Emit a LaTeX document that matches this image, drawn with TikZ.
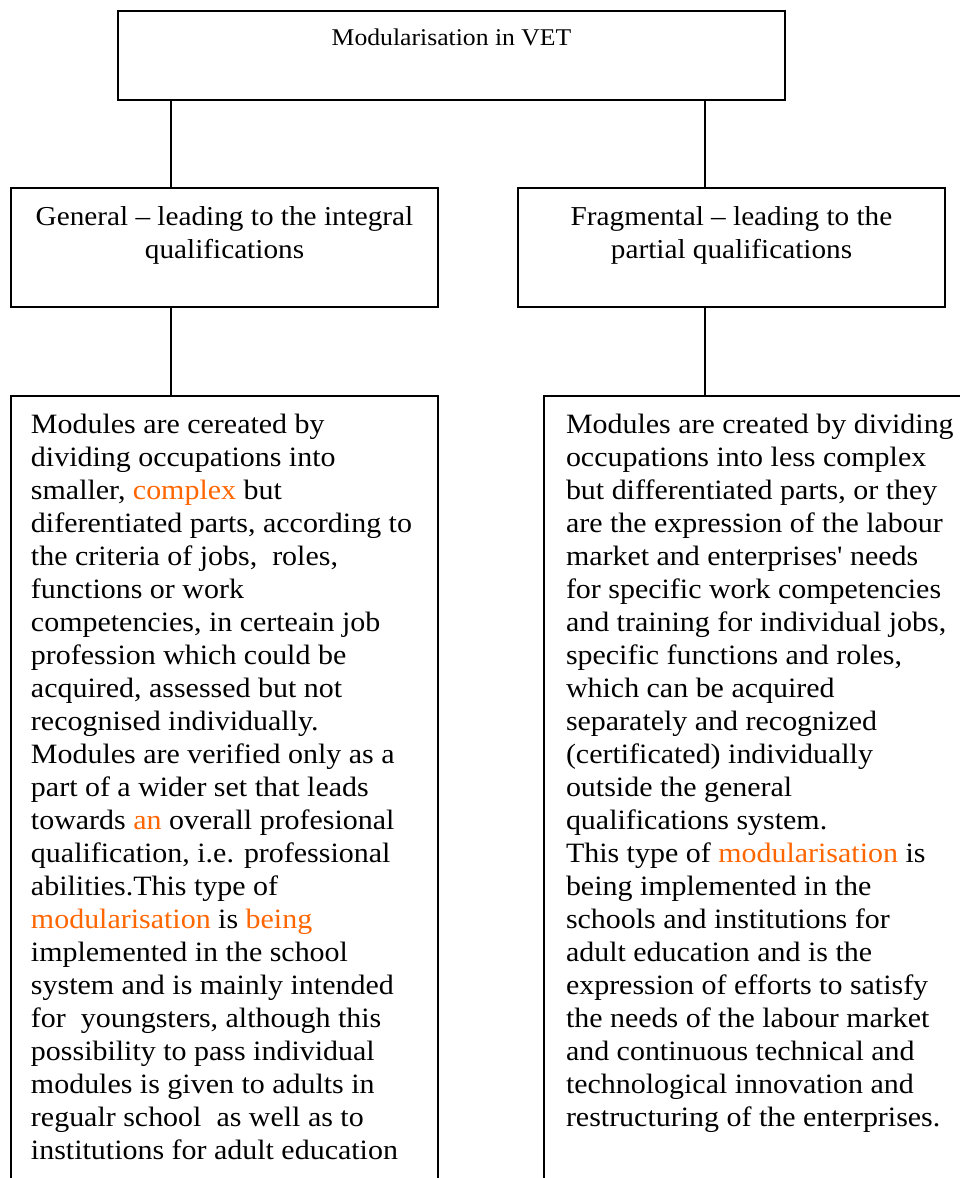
\documentclass[tikz,border=0pt]{standalone}
\usepackage{fontspec}
\newfontfamily\bodyfont[FakeStretch=1.07]{Liberation Serif}
\definecolor{orng}{RGB}{255,102,0}
\newcommand\bodysize{\fontsize{21}{24.75}\selectfont}
\newcommand\headsize{\fontsize{20.5}{24.75}\selectfont}
\newcommand\hl[1]{\textcolor{orng}{#1}}
\begin{document}
\begin{tikzpicture}[x=0.75pt,y=-0.75pt,
  box/.style={draw,line width=1.5pt,inner sep=0pt,outer sep=0pt,anchor=north west},
  txt/.style={inner sep=0pt,outer sep=0pt,font=\bodyfont},
  link/.style={line width=1.5pt}]
\clip (0,0) rectangle (960,1178);
\fill[white] (0,0) rectangle (960,1178);
% boxes
\node[box, minimum width=667*0.75pt, minimum height=89*0.75pt] (top) at (118,11) {};
\node[box, minimum width=427*0.75pt, minimum height=119*0.75pt] (gen) at (11,188) {};
\node[box, minimum width=427*0.75pt, minimum height=119*0.75pt] (frag) at (518,188) {};
\node[box, minimum width=427*0.75pt, minimum height=820*0.75pt] (genb) at (11,396) {};
\node[box, minimum width=440*0.75pt, minimum height=820*0.75pt] (fragb) at (544,396) {};
% connectors
\coordinate (cl) at (171,0);
\coordinate (cr) at (705,0);
\draw[link] (top.south -| cl) -- (gen.north -| cl);
\draw[link] (top.south -| cr) -- (frag.north -| cr);
\draw[link] (gen.south -| cl) -- (genb.north -| cl);
\draw[link] (frag.south -| cr) -- (fragb.north -| cr);
% texts
\node[txt, anchor=base] (toptxt) at (451.5,45) {\fontsize{18}{22}\selectfont Modularisation in VET};
\node[txt, anchor=base] (gentxt) at (224.5,225) {\headsize\begin{tabular}[t]{@{}c@{}}General – leading to the integral\\qualifications\end{tabular}};
\node[txt, anchor=base] (fragtxt) at (731.5,225) {\headsize\begin{tabular}[t]{@{}c@{}}Fragmental – leading to the\\partial qualifications\end{tabular}};
\node[txt, anchor=base west] (genbtxt) at (31,433) {\bodysize\begin{tabular}[t]{@{}l@{}}
Modules are cereated by\\
dividing occupations into\\
smaller, \hl{complex} but\\
diferentiated parts, according to\\
the criteria of jobs,\ \ roles,\\
functions or work\\
competencies, in certeain job\\
profession which could be\\
acquired, assessed but not\\
recognised individually.\\
Modules are verified only as a\\
part of a wider set that leads\\
towards \hl{an} overall profesional\\
qualification, i.e. professional\\
abilities.This type of\\
\hl{modularisation} is \hl{being}\\
implemented in the school\\
system and is mainly intended\\
for\ \ youngsters, although this\\
possibility to pass individual\\
modules is given to adults in\\
regualr school\ \ as well as to\\
institutions for adult education
\end{tabular}};
\node[txt, anchor=base west] (fragbtxt) at (566,433) {\bodysize\begin{tabular}[t]{@{}l@{}}
Modules are created by dividing\\
occupations into less complex\\
but differentiated parts, or they\\
are the expression of the labour\\
market and enterprises' needs\\
for specific work competencies\\
and training for individual jobs,\\
specific functions and roles,\\
which can be acquired\\
separately and recognized\\
(certificated) individually\\
outside the general\\
qualifications system.\\
This type of \hl{modularisation} is\\
being implemented in the\\
schools and institutions for\\
adult education and is the\\
expression of efforts to satisfy\\
the needs of the labour market\\
and continuous technical and\\
technological innovation and\\
restructuring of the enterprises.
\end{tabular}};
\end{tikzpicture}
\end{document}
